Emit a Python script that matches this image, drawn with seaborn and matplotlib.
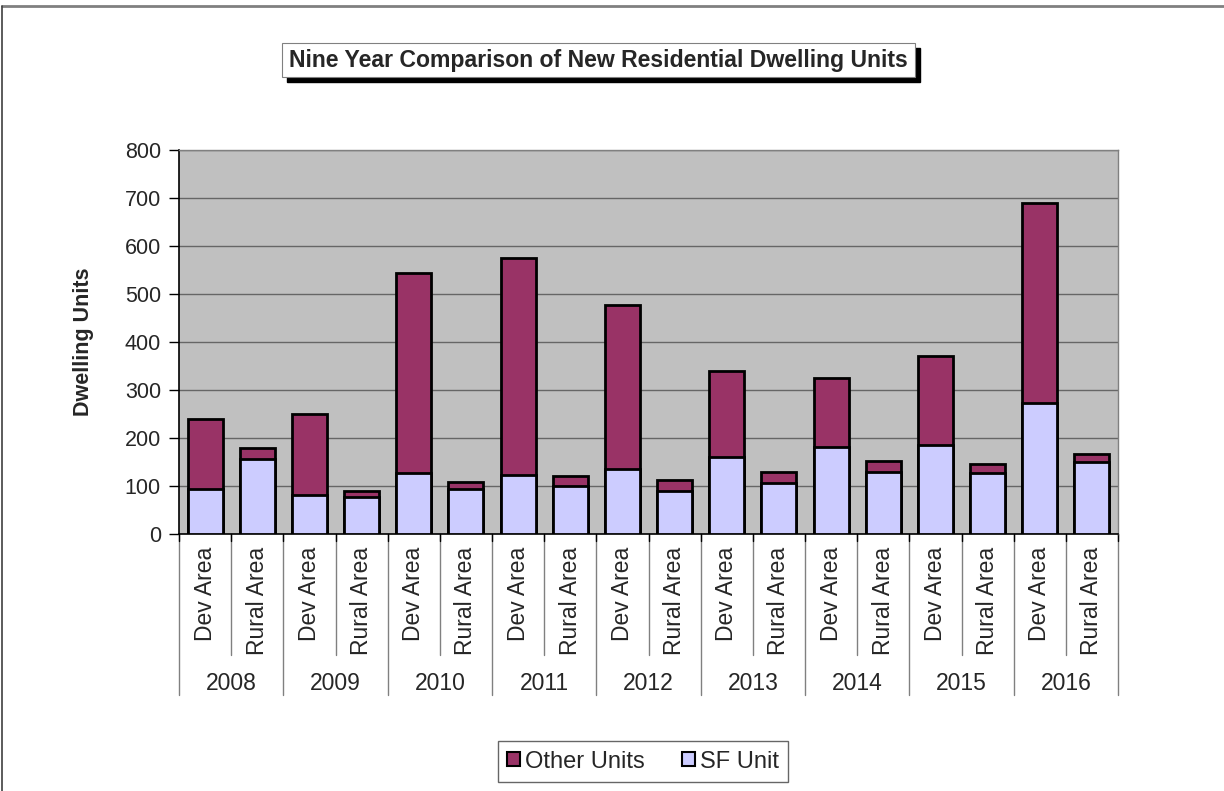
import matplotlib
matplotlib.use("Agg")
import matplotlib.pyplot as plt
import seaborn as sns
import pandas as pd
from matplotlib.lines import Line2D
from matplotlib.patches import Patch, Rectangle

# data
years = ["2008", "2009", "2010", "2011", "2012", "2013", "2014", "2015", "2016"]
areas = ["Dev Area", "Rural Area"]
sf_units = [93, 157, 82, 77, 127, 94, 123, 100, 135, 90, 160, 106, 181, 129, 185, 127, 273, 149]
other_units = [147, 23, 168, 12, 416, 14, 452, 20, 343, 22, 179, 24, 143, 23, 185, 19, 417, 17]

BG = "#C0C0C0"
OTHER_COLOR = "#993366"
SF_COLOR = "#CCCCFF"

keys = [f"{y} {a}" for y in years for a in areas]
df = pd.DataFrame({"key": keys, "sf": sf_units, "other": other_units})
df["total"] = df["sf"] + df["other"]

sns.set_style("white")
plt.rcParams["font.family"] = ["Liberation Sans", "DejaVu Sans"]

W, H = 1224, 791
fig = plt.figure(figsize=(W / 100, H / 100), dpi=100)

def fx(px):
    return px / W

def fy(py):
    return 1 - py / H

left, right, top, bottom = 179, 1118, 150, 534
ax = fig.add_axes([fx(left), fy(bottom), fx(right - left), fy(top) - fy(bottom)])
ax.set_facecolor(BG)

sns.barplot(data=df, x="key", y="total", order=keys, color=OTHER_COLOR, width=0.67,
            edgecolor="black", linewidth=2, saturation=1, ax=ax, zorder=3)
sns.barplot(data=df, x="key", y="sf", order=keys, color=SF_COLOR, width=0.67,
            edgecolor="black", linewidth=2, saturation=1, ax=ax, zorder=4)

ax.set_ylim(0, 800)
ax.set_xlim(-0.5, len(keys) - 0.5)
ax.set_yticks(range(0, 801, 100))
ax.yaxis.grid(True, color="#666666", linewidth=1)
ax.set_axisbelow(True)
ax.tick_params(axis="y", labelsize=15.5, length=7, width=1, color="black", direction="out", left=True, pad=6)
ax.set_xticks([])
ax.set_xlabel("")
ax.set_ylabel("Dwelling Units", fontsize=15.5, fontweight="bold")
ax.yaxis.set_label_coords((94 - left) / (right - left), 0.5)

for side in ["top", "right"]:
    ax.spines[side].set_color("#808080")
    ax.spines[side].set_linewidth(1)
for side in ["left", "bottom"]:
    ax.spines[side].set_color("black")
    ax.spines[side].set_linewidth(1.2)

# two-level category axis
ph = bottom - top
xt = ax.get_xaxis_transform()
for i in range(len(keys) + 1):
    xb = i - 0.5
    depth = 695 if i % 2 == 0 else 655
    ax.add_line(Line2D([xb, xb], [0, -(depth - bottom) / ph], transform=xt,
                       color="#808080", linewidth=1, clip_on=False))
    ax.add_line(Line2D([xb, xb], [0, -7 / ph], transform=xt,
                       color="black", linewidth=1, clip_on=False))
for i, k in enumerate(keys):
    ax.text(i, -(547 - bottom) / ph, areas[i % 2], rotation=90, ha="center", va="top",
            fontsize=16.5, transform=xt)
for j, y in enumerate(years):
    ax.text(2 * j + 0.5, -(683 - bottom) / ph, y, ha="center", va="center",
            fontsize=16.5, transform=xt)

# outer chart border
fig.add_artist(Line2D([fx(2), 1], [fy(6), fy(6)], color="#808080", linewidth=2))
fig.add_artist(Line2D([fx(2), fx(2)], [fy(6), 0], color="#404040", linewidth=1.2))

# title box with shadow
bx0, by0, bx1, by1 = 282, 43, 915, 77
fig.add_artist(Rectangle((fx(bx0 + 5), fy(by1 + 5)), fx(bx1 - bx0), fy(by0) - fy(by1),
                         transform=fig.transFigure, facecolor="black", edgecolor="black"))
fig.add_artist(Rectangle((fx(bx0), fy(by1)), fx(bx1 - bx0), fy(by0) - fy(by1),
                         transform=fig.transFigure, facecolor="white", edgecolor="#808080",
                         linewidth=0.8))
fig.text(fx((bx0 + bx1) / 2), fy((by0 + by1) / 2), "Nine Year Comparison of New Residential Dwelling Units",
         ha="center", va="center", fontsize=16.6, fontweight="bold")

handles = [Patch(facecolor=OTHER_COLOR, edgecolor="black", linewidth=1.5, label="Other Units"),
           Patch(facecolor=SF_COLOR, edgecolor="black", linewidth=1.5, label="SF Unit")]
leg = fig.legend(handles=handles, loc="center", bbox_to_anchor=(fx(643), fy(761.5)), ncol=2,
                 fontsize=17, frameon=True, fancybox=False, handlelength=0.55, handleheight=0.55,
                 handletextpad=0.2, columnspacing=1.6, borderpad=0.4, borderaxespad=0)
leg.get_frame().set_edgecolor("#404040")
leg.get_frame().set_linewidth(1)
leg._legend_box.sep = 0
for t in leg.get_texts():
    t.set_va("baseline")

fig.savefig("out.png", dpi=100)
